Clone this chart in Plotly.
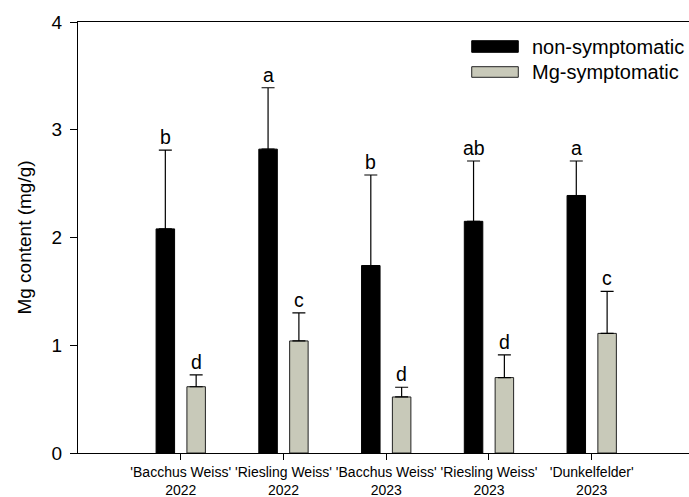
import plotly.graph_objects as go

# Cultivar / year groups
categories = [
    "'Bacchus Weiss'<br>2022",
    "'Riesling Weiss'<br>2022",
    "'Bacchus Weiss'<br>2023",
    "'Riesling Weiss'<br>2023",
    "'Dunkelfelder'<br>2023",
]

# Mg content (mg/g), mean and upper error
non_symptomatic = [2.08, 2.82, 1.74, 2.15, 2.39]
non_symptomatic_err = [0.73, 0.57, 0.84, 0.56, 0.32]
mg_symptomatic = [0.615, 1.04, 0.52, 0.70, 1.11]
mg_symptomatic_err = [0.11, 0.26, 0.09, 0.21, 0.39]

# Significance letters
non_letters = ["b", "a", "b", "ab", "a"]
mg_letters = ["d", "c", "d", "d", "c"]

FONT = "Liberation Sans, Arial, sans-serif"
BLACK = "#000000"
GREY = "#c8c9b9"
BARGAP = 0.4

fig = go.Figure()
fig.add_trace(go.Bar(
    name="non-symptomatic", x=categories, y=non_symptomatic,
    marker=dict(color=BLACK, line=dict(color=BLACK, width=1)),
    error_y=dict(type="data", array=non_symptomatic_err, symmetric=False,
                 arrayminus=[0] * len(non_symptomatic), color=BLACK,
                 thickness=1.2, width=6.5),
    showlegend=False,
))
fig.add_trace(go.Bar(
    name="Mg-symptomatic", x=categories, y=mg_symptomatic,
    marker=dict(color=GREY, line=dict(color="#222222", width=1)),
    error_y=dict(type="data", array=mg_symptomatic_err, symmetric=False,
                 arrayminus=[0] * len(mg_symptomatic), color=BLACK,
                 thickness=1.2, width=6.5),
    showlegend=False,
))

# Letters above the error bars, centred on each bar of the group
offset = (1 - BARGAP) / 4
annotations = []
for i in range(len(categories)):
    for vals, errs, letters, dx in (
        (non_symptomatic, non_symptomatic_err, non_letters, -offset),
        (mg_symptomatic, mg_symptomatic_err, mg_letters, offset),
    ):
        annotations.append(dict(
            x=i + dx, y=vals[i] + errs[i], xref="x", yref="y",
            text=letters[i], showarrow=False, yanchor="bottom",
            font=dict(family=FONT, size=19.5, color=BLACK),
        ))

# Legend drawn as wide swatches with labels
shapes = []
legend_items = [("non-symptomatic", BLACK, BLACK, 0.9297, 0.9566),
                ("Mg-symptomatic", GREY, "#222222", 0.8717, 0.8963)]
for label, fill, edge, y0, y1 in legend_items:
    shapes.append(dict(type="rect", xref="paper", yref="paper",
                       x0=0.6444, x1=0.7206, y0=y0, y1=y1,
                       fillcolor=fill, line=dict(color=edge, width=1)))
    annotations.append(dict(x=0.7398, y=(y0 + y1) / 2, xref="paper", yref="paper",
                            text=label, showarrow=False, xanchor="left",
                            yanchor="middle",
                            font=dict(family=FONT, size=20, color=BLACK)))

fig.update_layout(
    width=689, height=497,
    margin=dict(l=78, r=0, t=22, b=44),
    paper_bgcolor="white", plot_bgcolor="white",
    barmode="group", bargap=BARGAP, bargroupgap=0.4,
    font=dict(family=FONT, color=BLACK),
    annotations=annotations, shapes=shapes,
    showlegend=False,
)
fig.update_xaxes(
    type="category", range=[-1, 4.947],
    showline=True, linecolor=BLACK, linewidth=1, mirror=True,
    ticks="outside", ticklen=6, tickcolor=BLACK, tickwidth=1,
    tickfont=dict(family=FONT, size=14, color=BLACK),
    showgrid=False, zeroline=False,
)
fig.update_yaxes(
    range=[0, 4], tickvals=[0, 1, 2, 3, 4],
    showline=True, linecolor=BLACK, linewidth=1, mirror=False,
    ticks="outside", ticklen=7, tickcolor=BLACK, tickwidth=1,
    tickfont=dict(family=FONT, size=19, color=BLACK),
    ticklabelstandoff=4,
    title=dict(text="Mg content (mg/g)", standoff=14,
               font=dict(family=FONT, size=19, color=BLACK)),
    showgrid=False, zeroline=False,
)

fig.write_html("out.html", config={"displayModeBar": False})
